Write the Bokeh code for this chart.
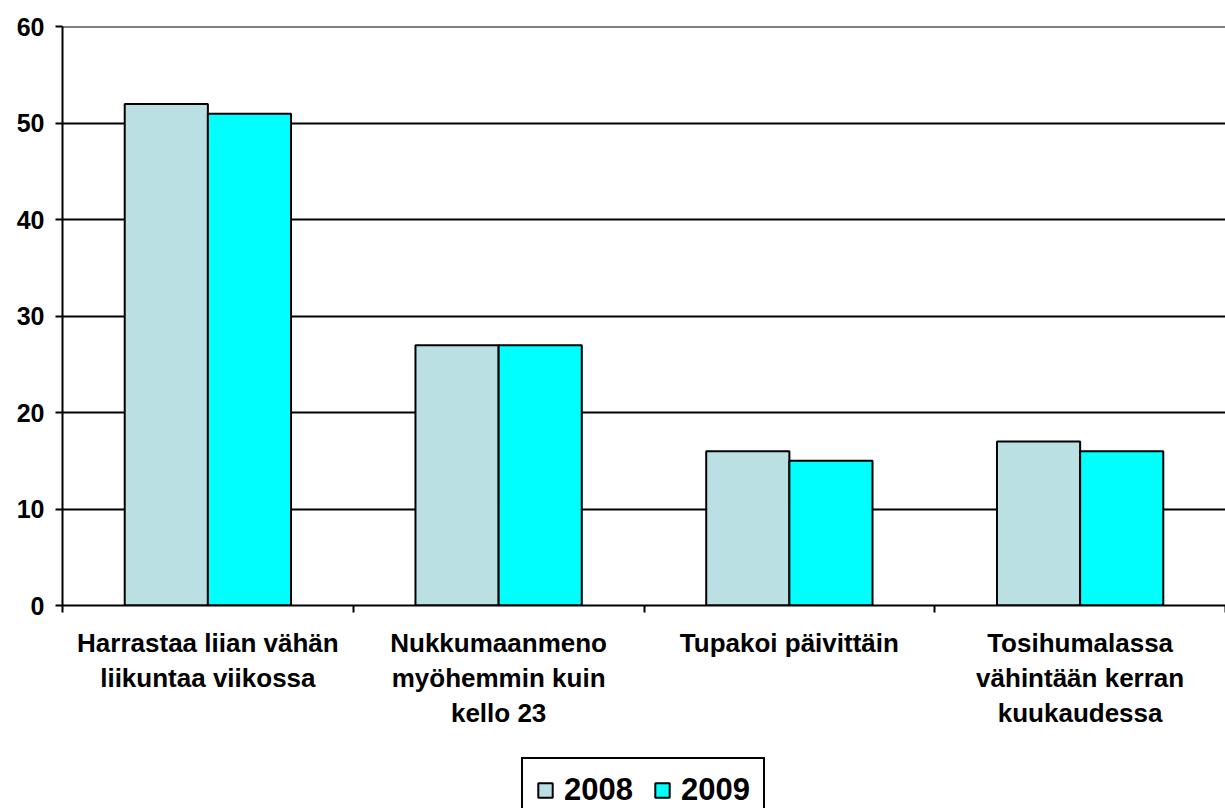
from bokeh.plotting import figure
from bokeh.layouts import column
from bokeh.models import ColumnDataSource, FixedTicker, Legend, LegendItem, Range1d
from bokeh.embed import file_html
from bokeh.resources import INLINE

categories = ["Harrastaa liian vähän\nliikuntaa viikossa",
              "Nukkumaanmeno\nmyöhemmin kuin\nkello 23",
              "Tupakoi päivittäin",
              "Tosihumalassa\nvähintään kerran\nkuukaudessa"]
years = ["2008", "2009"]
values_2008 = [52, 27, 16, 17]
values_2009 = [51, 27, 15, 16]
y_ticks = [0, 10, 20, 30, 40, 50, 60]
colors = ["#BBE0E3", "#00FFFF"]

FONT = "Liberation Sans"
W = 1225
FRAME_L = 62
PX_PER_CAT = 290.75

centers = [i + 0.5 for i in range(len(categories))]
src08 = ColumnDataSource(dict(x=[c - 0.143 for c in centers], top=values_2008))
src09 = ColumnDataSource(dict(x=[c + 0.143 for c in centers], top=values_2009))

p = figure(width=W, height=750, output_backend="svg", toolbar_location=None,
           x_range=Range1d(0, (W - FRAME_L) / PX_PER_CAT), y_range=Range1d(0, 60.05),
           min_border_left=FRAME_L, min_border_right=0, min_border_top=26, min_border_bottom=145)
p.outline_line_color = None
p.background_fill_color = "white"

r1 = p.vbar(x="x", top="top", bottom=0, width=0.286, source=src08,
            fill_color=colors[0], line_color="black", line_width=2)
r2 = p.vbar(x="x", top="top", bottom=0, width=0.286, source=src09,
            fill_color=colors[1], line_color="black", line_width=2)

# y axis
p.yaxis.ticker = FixedTicker(ticks=y_ticks)
p.yaxis.axis_line_color = "black"
p.yaxis.axis_line_width = 2
p.yaxis.major_tick_line_color = "black"
p.yaxis.major_tick_line_width = 2
p.yaxis.major_tick_out = 7
p.yaxis.major_tick_in = 0
p.yaxis.minor_tick_line_color = None
p.yaxis.major_label_text_font = FONT
p.yaxis.major_label_text_font_style = "bold"
p.yaxis.major_label_text_font_size = "25px"
p.yaxis.major_label_text_color = "black"
p.yaxis.major_label_standoff = 11

# x axis
p.xaxis.ticker = FixedTicker(ticks=centers, minor_ticks=[0, 1, 2, 3, 4])
p.xaxis.major_label_overrides = {c: lab for c, lab in zip(centers, categories)}
p.xaxis.axis_line_color = "black"
p.xaxis.axis_line_width = 2
p.xaxis.major_tick_line_color = None
p.xaxis.major_tick_out = 7
p.xaxis.minor_tick_line_color = "black"
p.xaxis.minor_tick_line_width = 2
p.xaxis.minor_tick_out = 7
p.xaxis.minor_tick_in = 0
p.xaxis.major_label_text_font = FONT
p.xaxis.major_label_text_font_style = "bold"
p.xaxis.major_label_text_font_size = "26px"
p.xaxis.major_label_text_color = "black"
p.xaxis.major_label_text_line_height = 1.17
p.xaxis.major_label_standoff = 15

# grid
p.xgrid.grid_line_color = None
p.ygrid.ticker = FixedTicker(ticks=y_ticks[1:])
p.ygrid.grid_line_color = "black"
p.ygrid.grid_line_width = 2
p.ygrid.level = "underlay"

# legend in its own strip below the chart (legend-only renderers hold no drawable point)
lg = figure(width=W, height=58, output_backend="svg", toolbar_location=None,
            x_range=Range1d(0, 1), y_range=Range1d(0, 1),
            min_border=0, min_border_left=0, min_border_right=0,
            min_border_top=0, min_border_bottom=0)
lg.axis.visible = False
lg.grid.visible = False
lg.outline_line_color = None
nan_src = ColumnDataSource(dict(x=[float("nan")], top=[float("nan")]))
d1 = lg.vbar(x="x", top="top", bottom=0, width=0.1, source=nan_src,
             fill_color=colors[0], line_color="black", line_width=2)
d2 = lg.vbar(x="x", top="top", bottom=0, width=0.1, source=nan_src,
             fill_color=colors[1], line_color="black", line_width=2)
legend = Legend(items=[LegendItem(label=years[0], renderers=[d1]),
                       LegendItem(label=years[1], renderers=[d2])],
                orientation="horizontal", location=(459, -15),
                label_text_font=FONT, label_text_font_style="bold",
                label_text_font_size="31px", label_text_color="black",
                glyph_width=18, glyph_height=18, label_standoff=10, spacing=20,
                padding=13, margin=0, border_line_color="black", border_line_width=2,
                border_line_alpha=1.0, background_fill_color="white", background_fill_alpha=1.0)
lg.add_layout(legend, "center")

layout = column(p, lg, spacing=0)
open("out.html", "w").write(file_html(layout, INLINE))
